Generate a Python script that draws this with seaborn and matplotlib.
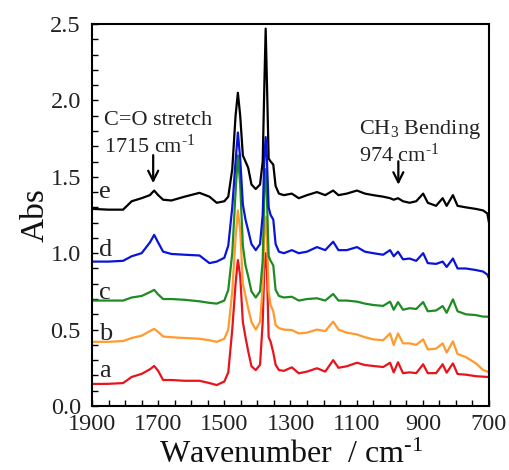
import numpy as np
import pandas as pd
import matplotlib
matplotlib.use("Agg")
import matplotlib.pyplot as plt
from matplotlib.ticker import MultipleLocator, FormatStrFormatter
import seaborn as sns

# Wavenumber grid (cm^-1) shared by all spectra
wavenumber = [1900, 1850, 1806, 1780, 1750, 1725, 1712, 1700, 1685, 1660,
              1620, 1575, 1545, 1523, 1500, 1488, 1476, 1466, 1459, 1452,
              1444, 1436, 1428, 1418, 1405, 1392, 1384, 1379, 1375, 1371,
              1366, 1360, 1352, 1345, 1335, 1320, 1296, 1275, 1250, 1220,
              1195, 1171, 1155, 1130, 1099, 1075, 1050, 1020, 999, 988,
              975, 960, 940, 920, 899, 885, 860, 840, 828, 809,
              795, 770, 740, 718, 705, 700]

abs_a = [0.144, 0.145, 0.150, 0.190, 0.210, 0.240, 0.262, 0.230, 0.170, 0.170,
         0.165, 0.165, 0.150, 0.137, 0.160, 0.220, 0.500, 0.800, 0.955, 0.850,
         0.550, 0.450, 0.360, 0.260, 0.235, 0.270, 0.550, 0.900, 1.000, 0.880,
         0.450, 0.420, 0.350, 0.270, 0.235, 0.230, 0.253, 0.214, 0.225, 0.247,
         0.225, 0.300, 0.250, 0.260, 0.283, 0.268, 0.262, 0.255, 0.283, 0.220,
         0.286, 0.215, 0.220, 0.215, 0.273, 0.215, 0.215, 0.273, 0.218, 0.279,
         0.209, 0.205, 0.195, 0.192, 0.190, 0.190]

abs_b = [0.420, 0.420, 0.425, 0.445, 0.460, 0.490, 0.505, 0.485, 0.455, 0.450,
         0.445, 0.440, 0.430, 0.420, 0.440, 0.500, 0.750, 1.100, 1.280, 1.150,
         0.800, 0.720, 0.640, 0.550, 0.500, 0.550, 0.780, 1.120, 1.240, 1.100,
         0.750, 0.660, 0.620, 0.530, 0.510, 0.500, 0.497, 0.475, 0.480, 0.500,
         0.490, 0.552, 0.500, 0.480, 0.468, 0.450, 0.436, 0.430, 0.475, 0.400,
         0.475, 0.410, 0.410, 0.400, 0.436, 0.370, 0.375, 0.410, 0.350, 0.423,
         0.340, 0.320, 0.280, 0.236, 0.225, 0.220]

abs_c = [0.690, 0.690, 0.690, 0.710, 0.720, 0.745, 0.760, 0.730, 0.700, 0.700,
         0.695, 0.685, 0.675, 0.670, 0.690, 0.760, 1.000, 1.400, 1.640, 1.450,
         1.050, 0.920, 0.850, 0.750, 0.710, 0.750, 0.950, 1.400, 1.550, 1.350,
         0.980, 0.950, 0.920, 0.760, 0.720, 0.710, 0.715, 0.690, 0.700, 0.705,
         0.690, 0.733, 0.690, 0.690, 0.683, 0.670, 0.661, 0.655, 0.683, 0.630,
         0.680, 0.630, 0.640, 0.635, 0.680, 0.620, 0.625, 0.654, 0.610, 0.698,
         0.620, 0.600, 0.595, 0.585, 0.585, 0.580]

abs_d = [0.945, 0.945, 0.950, 0.980, 1.000, 1.070, 1.120, 1.070, 1.010, 0.995,
         0.990, 0.985, 0.935, 0.945, 0.970, 1.050, 1.300, 1.600, 1.790, 1.620,
         1.320, 1.220, 1.150, 1.060, 1.020, 1.060, 1.250, 1.620, 1.760, 1.600,
         1.300, 1.250, 1.220, 1.060, 1.010, 1.000, 1.020, 1.000, 1.010, 1.040,
         1.020, 1.075, 1.020, 1.020, 1.040, 1.010, 1.000, 0.990, 1.020, 0.980,
         1.010, 0.960, 0.965, 0.950, 1.000, 0.935, 0.930, 0.945, 0.910, 0.965,
         0.900, 0.900, 0.890, 0.880, 0.860, 0.835]

abs_e = [1.290, 1.285, 1.285, 1.340, 1.360, 1.380, 1.410, 1.380, 1.350, 1.345,
         1.370, 1.395, 1.370, 1.330, 1.340, 1.370, 1.550, 1.900, 2.050, 1.900,
         1.640, 1.600, 1.560, 1.450, 1.420, 1.450, 1.600, 2.100, 2.470, 2.100,
         1.620, 1.600, 1.580, 1.440, 1.390, 1.380, 1.390, 1.360, 1.380, 1.400,
         1.380, 1.410, 1.380, 1.390, 1.410, 1.390, 1.380, 1.370, 1.360, 1.350,
         1.360, 1.340, 1.330, 1.340, 1.390, 1.330, 1.310, 1.360, 1.310, 1.380,
         1.310, 1.300, 1.290, 1.280, 1.260, 1.200]

sample_labels = ["a", "b", "c", "d", "e"]
line_colors = ["#e8141c", "#ff9a2e", "#1e8c23", "#0a14d8", "#000000"]
label_baselines = [0.19, 0.43, 0.70, 0.98, 1.36]

x_ticks = [1900, 1700, 1500, 1300, 1100, 900, 700]
y_ticks = [0.0, 0.5, 1.0, 1.5, 2.0, 2.5]

series = [abs_a, abs_b, abs_c, abs_d, abs_e]
df = pd.concat(
    [pd.DataFrame({"wavenumber": wavenumber, "abs": vals, "sample": lab})
     for lab, vals in zip(sample_labels, series)],
    ignore_index=True,
)

sns.set_theme(style="white")
plt.rcParams["font.family"] = ["Liberation Serif", "DejaVu Serif"]
plt.rcParams["mathtext.fontset"] = "custom"
plt.rcParams["mathtext.rm"] = "Liberation Serif"
plt.rcParams["mathtext.it"] = "Liberation Serif:italic"

fig = plt.figure(figsize=(5.09, 4.70), dpi=100)
ax = fig.add_axes([0.1807, 0.1362, 0.9607 - 0.1807, 0.9489 - 0.1362])

sns.lineplot(data=df, x="wavenumber", y="abs", hue="sample",
             palette=dict(zip(sample_labels, line_colors)),
             estimator=None, sort=False, linewidth=1.6, legend=False, ax=ax)

ax.set_xlim(1900, 700)
ax.set_ylim(0, 2.5)
ax.set_xticks(x_ticks)
ax.set_yticks(y_ticks)
ax.xaxis.set_minor_locator(MultipleLocator(50))
ax.yaxis.set_minor_locator(MultipleLocator(0.1))
ax.yaxis.set_major_formatter(FormatStrFormatter("%.1f"))
ax.tick_params(axis="both", which="both", direction="in", length=4, width=1,
               color="black", labelsize=17.5, labelcolor="#222222",
               top=False, right=False, bottom=True, left=True)
ax.tick_params(axis="y", which="major", pad=8)
ax.tick_params(axis="x", which="major", pad=6)
for s in ax.spines.values():
    s.set_color("black")
    s.set_linewidth(1.5)

ax.set_xlabel(r"Wavenumber  / cm$^{\text{-1}}$", fontsize=23, color="#111111",
              labelpad=4)
ax.set_ylabel("Abs", fontsize=24, color="#111111", labelpad=0)

# sample letters just inside the left spine
for lab, lev in zip(sample_labels, label_baselines):
    ax.text(1878, lev, lab, fontsize=19, color="#222222",
            va="baseline", ha="left")

# band annotations
ax.text(1864, 1.87, "C=O stretch", fontsize=16, color="#222222", va="center")
ax.text(1864, 1.70, r"1715 cm$^{\text{-1}}$", fontsize=16, color="#222222",
        va="center")
ax.annotate("", xy=(1715, 1.44), xytext=(1715, 1.66),
            arrowprops=dict(arrowstyle="->", color="black", lw=1.6,
                            mutation_scale=18))
ax.text(1094, 1.81, "CH$_3$ Bending", fontsize=16, color="#222222", va="center")
ax.text(1094, 1.64, r"974 cm$^{\text{-1}}$", fontsize=16, color="#222222",
        va="center")
ax.annotate("", xy=(974, 1.43), xytext=(974, 1.62),
            arrowprops=dict(arrowstyle="->", color="black", lw=1.6,
                            mutation_scale=18))

fig.savefig("out.png", dpi=100)
